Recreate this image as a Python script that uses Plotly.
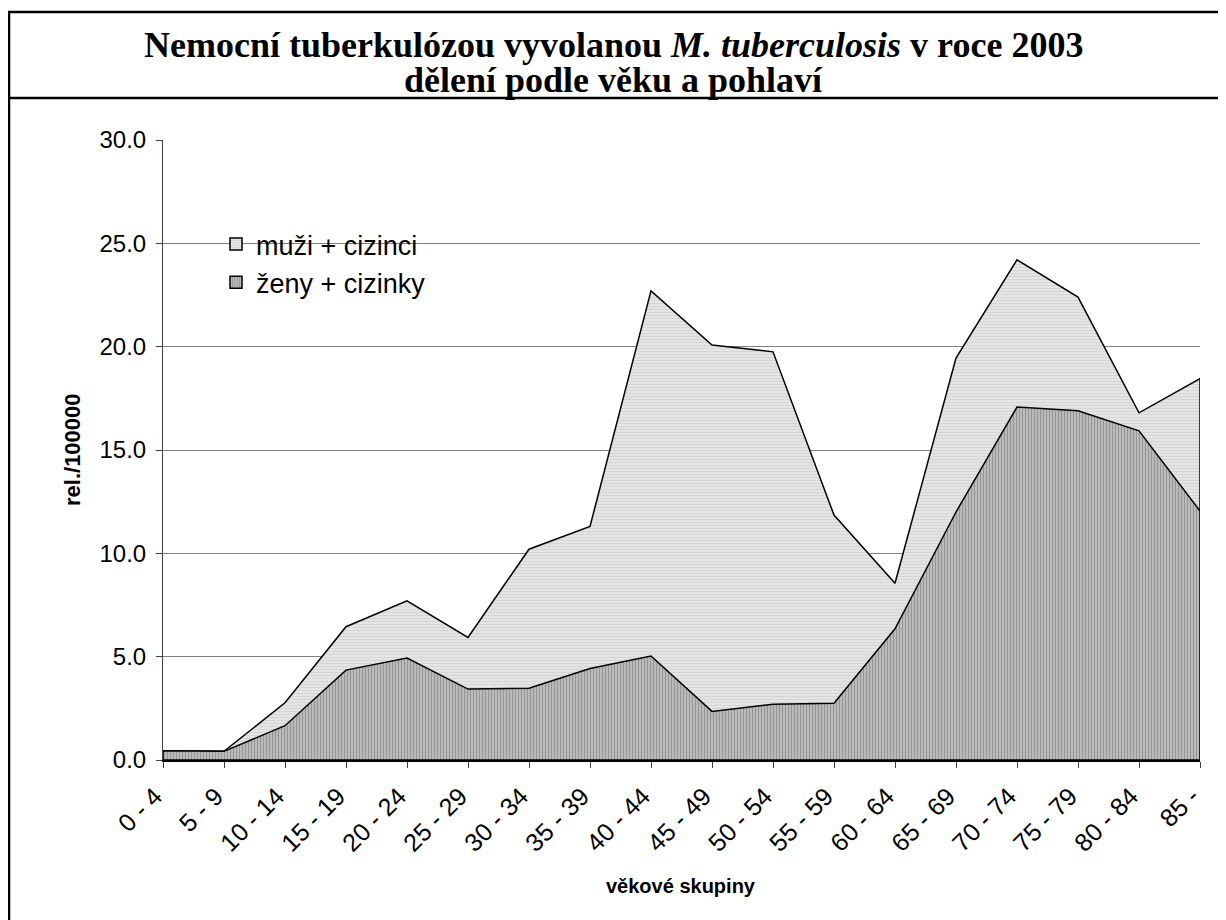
import plotly.graph_objects as go

categories = ["0 - 4", "5 - 9", "10 - 14", "15 - 19", "20 - 24", "25 - 29", "30 - 34",
              "35 - 39", "40 - 44", "45 - 49", "50 - 54", "55 - 59", "60 - 64",
              "65 - 69", "70 - 74", "75 - 79", "80 - 84", "85 -"]
muzi = [0.45, 0.42, 2.77, 6.45, 7.7, 5.93, 10.2, 11.3, 22.7, 20.08, 19.75, 11.85,
        8.55, 19.45, 24.2, 22.4, 16.8, 18.45]
zeny = [0.45, 0.42, 1.66, 4.35, 4.93, 3.43, 3.47, 4.43, 5.03, 2.35, 2.7, 2.75,
        6.35, 12.0, 17.08, 16.9, 15.93, 12.05]
yticks = [0, 5, 10, 15, 20, 25, 30]

OFF = 8  # page body margin
W, H = 1226 - OFF, 920 - OFF
# plot area in page pixels
L, R, T, B = 163, 1200, 140, 760

xs = list(range(len(categories)))


def poly(vals):
    return xs + [xs[-1], xs[0], xs[0]], vals + [0, 0, vals[0]]


def pxx(x):
    return (x - L) / (R - L)


def pyy(y):
    return (B - y) / (B - T)


men_pat = dict(shape="-", bgcolor="#e4e4e4", fgcolor="#c6c6c6", size=3, solidity=0.35)
women_pat = dict(shape="|", bgcolor="#c2c2c2", fgcolor="#686868", size=3, solidity=0.45)

fig = go.Figure()
px_, py_ = poly(muzi)
fig.add_trace(go.Scatter(
    x=px_, y=py_, mode="lines", fill="toself", name="muži + cizinci", showlegend=False,
    line=dict(color="black", width=1.5), fillcolor="#dcdcdc", fillpattern=men_pat,
))
px_, py_ = poly(zeny)
fig.add_trace(go.Scatter(
    x=px_, y=py_, mode="lines", fill="toself", name="ženy + cizinky", showlegend=False,
    line=dict(color="black", width=1.5), fillcolor="#a8a8a8", fillpattern=women_pat,
))
# legend entries (square swatches)
fig.add_trace(go.Bar(x=[None], y=[None], name="muži + cizinci",
                     marker=dict(color="#dcdcdc", pattern=men_pat, line=dict(color="black", width=1.5))))
fig.add_trace(go.Bar(x=[None], y=[None], name="ženy + cizinky",
                     marker=dict(color="#a8a8a8", pattern=women_pat, line=dict(color="black", width=1.5))))

shapes = [
    dict(type="rect", xref="paper", yref="paper", x0=pxx(9), x1=pxx(1240), y0=pyy(12), y1=pyy(935),
         line=dict(color="black", width=2.5), fillcolor="rgba(0,0,0,0)", layer="above"),
    dict(type="line", xref="paper", yref="paper", x0=pxx(9), x1=pxx(1240), y0=pyy(98), y1=pyy(98),
         line=dict(color="black", width=2.5)),
]

tfont = dict(family="Liberation Serif", size=36, color="black")
annotations = [
    dict(text="<b>Nemocní tuberkulózou vyvolanou <i>M. tuberculosis</i> v roce 2003</b>",
         xref="paper", yref="paper", x=pxx(613), y=pyy(45), xanchor="center", yanchor="middle",
         showarrow=False, font=tfont),
    dict(text="<b>dělení podle věku a pohlaví</b>",
         xref="paper", yref="paper", x=pxx(613), y=pyy(80), xanchor="center", yanchor="middle",
         showarrow=False, font=tfont),
    dict(text="<b>rel./100000</b>", xref="paper", yref="paper", x=pxx(72), y=pyy(450),
         xanchor="center", yanchor="middle", textangle=-90, showarrow=False,
         font=dict(family="Liberation Sans", size=22, color="black")),
    dict(text="<b>věkové skupiny</b>", xref="paper", yref="paper", x=pxx(681), y=pyy(886),
         xanchor="center", yanchor="middle", showarrow=False,
         font=dict(family="Liberation Sans", size=20, color="black")),
]

fig.update_layout(
    width=W, height=H,
    margin=dict(l=L - OFF, r=W - (R - OFF), t=T - OFF, b=H - (B - OFF)),
    paper_bgcolor="white", plot_bgcolor="white",
    showlegend=True,
    legend=dict(x=pxx(216), y=pyy(220), xanchor="left", yanchor="top",
                bgcolor="rgba(0,0,0,0)", font=dict(family="Liberation Sans", size=27, color="black"),
                itemwidth=30, tracegroupgap=0),
    shapes=shapes, annotations=annotations,
    xaxis=dict(range=[0, len(categories) - 1], tickvals=xs, ticktext=categories,
               tickangle=-45, showgrid=False, zeroline=False,
               showline=True, linecolor="black", linewidth=1.5,
               ticks="outside", ticklen=6, tickcolor="#404040",
               ticklabelshift=-8, ticklabelstandoff=4,
               tickfont=dict(family="Liberation Sans", size=25, color="black")),
    yaxis=dict(range=[0, 30], tickvals=yticks, tickformat=".1f",
               showgrid=True, gridcolor="#808080", gridwidth=1, zeroline=False,
               showline=True, linecolor="#404040", linewidth=1,
               ticks="outside", ticklen=6, tickcolor="#404040", ticklabelstandoff=5,
               tickfont=dict(family="Liberation Sans", size=24, color="black")),
)

fig.write_html("out.html")
